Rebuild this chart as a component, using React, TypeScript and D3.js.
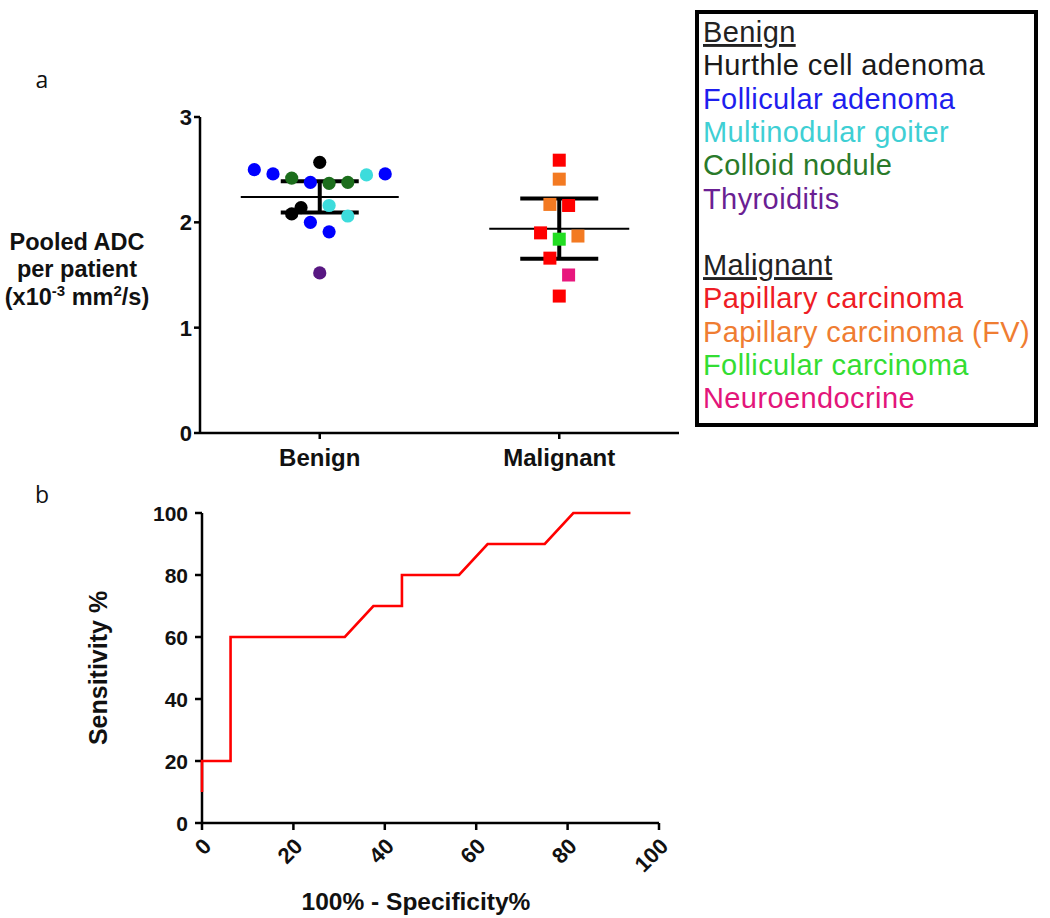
import React from 'react';
import * as d3 from 'd3';

// ---------- data ----------
const categories = ['Benign', 'Malignant'];
const benignValues = [2.50, 2.46, 2.42, 2.38, 2.37, 2.38, 2.45, 2.46, 2.57, 2.14, 2.08, 2.16, 2.06, 2.00, 1.91, 1.52];
const benignTypes = ['FA', 'FA', 'CN', 'FA', 'CN', 'CN', 'MG', 'FA', 'HCA', 'HCA', 'HCA', 'MG', 'MG', 'FA', 'FA', 'THY'];
const benignColumn = [-3.5, -2.5, -1.5, -0.5, 0.5, 1.5, 2.5, 3.5, 0, -1, -1.5, 0.5, 1.5, -0.5, 0.5, 0];
const malignantValues = [2.59, 2.41, 2.17, 2.16, 1.90, 1.84, 1.87, 1.66, 1.50, 1.30];
const malignantTypes = ['PC', 'PCFV', 'PCFV', 'PC', 'PC', 'FC', 'PCFV', 'PC', 'NE', 'PC'];
const malignantColumn = [0, 0, -0.5, 0.5, -1, 0, 1, -0.5, 0.5, 0];
const yTicksA = [0, 1, 2, 3];

const rocFpr = [0, 0, 6.25, 6.25, 31.25, 37.5, 43.75, 43.75, 56.25, 62.5, 75, 81.25, 93.75];
const rocSens = [10, 20, 20, 60, 60, 70, 70, 80, 80, 90, 90, 100, 100];
const rocTicks = [0, 20, 40, 60, 80, 100];

const benignLegendKeys = ['HCA', 'FA', 'MG', 'CN', 'THY'];
const benignLegendNames = ['Hurthle cell adenoma', 'Follicular adenoma', 'Multinodular goiter', 'Colloid nodule', 'Thyroiditis'];
const malignantLegendKeys = ['PC', 'PCFV', 'FC', 'NE'];
const malignantLegendNames = ['Papillary carcinoma', 'Papillary carcinoma (FV)', 'Follicular carcinoma', 'Neuroendocrine'];

const markerColor: Record<string, string> = {
  HCA: '#000000', FA: '#0000ff', MG: '#3ddcdc', CN: '#1c6e1c', THY: '#581782',
  PC: '#ff0000', PCFV: '#f37a22', FC: '#22dd22', NE: '#e8177d',
};
const textColor: Record<string, string> = {
  HCA: '#1a1a1a', FA: '#1e1eee', MG: '#3fcfd4', CN: '#2a7a2a', THY: '#6a1f93',
  PC: '#ee1c25', PCFV: '#ef7d32', FC: '#33dd33', NE: '#e3157a',
};
const tCrit: Record<number, number> = { 9: 2.262, 15: 2.131 };

const bold = '"Liberation Sans", Arial, sans-serif';

export default function App() {
  // ----- panel a -----
  const yA = d3.scaleLinear().domain([0, 3]).range([433, 117]);
  const xA = d3.scalePoint<string>().domain(categories).range([200, 679]).padding(0.5);
  const colStep = 18.7;

  const groups = [
    { name: 'Benign', values: benignValues, types: benignTypes, cols: benignColumn, shape: 'circle', meanHalf: 79 },
    { name: 'Malignant', values: malignantValues, types: malignantTypes, cols: malignantColumn, shape: 'square', meanHalf: 70 },
  ];

  // ----- panel b -----
  const xB = d3.scaleLinear().domain([0, 100]).range([202, 659]);
  const yB = d3.scaleLinear().domain([0, 100]).range([823, 513]);
  const rocPts: [number, number][] = rocFpr.map((f, i) => [f, rocSens[i]]);
  const rocLine = d3.line<[number, number]>().x(d => xB(d[0])).y(d => yB(d[1]));

  const legendLine = 33.3;
  const legendY0 = 42;

  return (
    <svg width={1050} height={918} style={{ position: 'absolute', left: 0, top: 0, background: '#fff' }}>
      {/* panel labels */}
      <text x={42} y={88} fontFamily='"Open Sans", sans-serif' fontSize={23} textAnchor="middle" fill="#111">a</text>
      <text x={42} y={503} fontFamily='"Open Sans", sans-serif' fontSize={23} textAnchor="middle" fill="#111">b</text>

      {/* ===== panel a axes ===== */}
      <line x1={200} x2={200} y1={yA(3)} y2={yA(0)} stroke="#000" strokeWidth={2.5} />
      <line x1={200} x2={679} y1={yA(0)} y2={yA(0)} stroke="#000" strokeWidth={2.5} />
      {yTicksA.map(t => (
        <g key={t}>
          <line x1={194} x2={200} y1={yA(t)} y2={yA(t)} stroke="#000" strokeWidth={2.5} />
          <text x={192} y={yA(t)} dy="0.36em" textAnchor="end" fontFamily={bold} fontWeight="bold" fontSize={22} fill="#111">{t}</text>
        </g>
      ))}
      {categories.map(c => (
        <g key={c}>
          <line x1={xA(c)} x2={xA(c)} y1={yA(0)} y2={yA(0) + 6} stroke="#000" strokeWidth={2.5} />
          <text x={xA(c)} y={466} textAnchor="middle" fontFamily={bold} fontWeight="bold" fontSize={24} fill="#111">{c}</text>
        </g>
      ))}
      <g fontFamily={bold} fontWeight="bold" fontSize={23.5} fill="#111" textAnchor="middle">
        <text x={77} y={250}>Pooled ADC</text>
        <text x={77} y={277}>per patient</text>
        <text x={77} y={305}>
          (x10<tspan dy={-9} fontSize={15}>-3</tspan><tspan dy={9}> mm</tspan><tspan dy={-9} fontSize={15}>2</tspan><tspan dy={9}>/s)</tspan>
        </text>
      </g>

      {/* mean and 95% CI */}
      {groups.map(g => {
        const cx = xA(g.name)!;
        const m = d3.mean(g.values)!;
        const sd = d3.deviation(g.values)!;
        const half = tCrit[g.values.length - 1] * sd / Math.sqrt(g.values.length);
        return (
          <g key={g.name + 'stats'} stroke="#000">
            <line x1={cx - g.meanHalf} x2={cx + g.meanHalf} y1={yA(m)} y2={yA(m)} strokeWidth={2} />
            <line x1={cx} x2={cx} y1={yA(m + half)} y2={yA(m - half)} strokeWidth={4} />
            <line x1={cx - 39} x2={cx + 39} y1={yA(m + half)} y2={yA(m + half)} strokeWidth={4} />
            <line x1={cx - 39} x2={cx + 39} y1={yA(m - half)} y2={yA(m - half)} strokeWidth={4} />
          </g>
        );
      })}

      {/* points */}
      {groups.map(g => {
        const cx = xA(g.name)!;
        return g.values.map((v, i) => {
          const x = cx + g.cols[i] * colStep;
          const y = yA(v);
          const fill = markerColor[g.types[i]];
          return g.shape === 'circle'
            ? <circle key={g.name + i} cx={x} cy={y} r={6.6} fill={fill} />
            : <rect key={g.name + i} x={x - 6.5} y={y - 6.5} width={13} height={13} fill={fill} />;
        });
      })}

      {/* legend */}
      <rect x={697} y={12} width={339} height={413} fill="none" stroke="#000" strokeWidth={4} />
      <g fontFamily='"Liberation Sans", Arial, sans-serif' fontSize={29} letterSpacing={0.4}>
        <text x={703} y={legendY0} fill="#222" textDecoration="underline">Benign</text>
        {benignLegendNames.map((n, i) => (
          <text key={n} x={703} y={legendY0 + (i + 1) * legendLine} fill={textColor[benignLegendKeys[i]]}>{n}</text>
        ))}
        <text x={703} y={legendY0 + 7 * legendLine} fill="#222" textDecoration="underline">Malignant</text>
        {malignantLegendNames.map((n, i) => (
          <text key={n} x={703} y={legendY0 + (i + 8) * legendLine} fill={textColor[malignantLegendKeys[i]]}>{n}</text>
        ))}
      </g>

      {/* ===== panel b ===== */}
      <line x1={xB(0)} x2={xB(0)} y1={yB(100)} y2={yB(0)} stroke="#000" strokeWidth={2.5} />
      <line x1={xB(0)} x2={xB(100)} y1={yB(0)} y2={yB(0)} stroke="#000" strokeWidth={2.5} />
      {rocTicks.map(t => (
        <g key={'y' + t}>
          <line x1={xB(0) - 7} x2={xB(0)} y1={yB(t)} y2={yB(t)} stroke="#000" strokeWidth={2.5} />
          <text x={188} y={yB(t)} dy="0.36em" textAnchor="end" fontFamily={bold} fontWeight="bold" fontSize={21} fill="#111">{t}</text>
        </g>
      ))}
      {rocTicks.map(t => (
        <g key={'x' + t}>
          <line x1={xB(t)} x2={xB(t)} y1={yB(0)} y2={yB(0) + 7} stroke="#000" strokeWidth={2.5} />
          <text transform={`translate(${xB(t) + 5},${yB(0) + 19}) rotate(-45)`} textAnchor="end" dy="0.36em"
            fontFamily={bold} fontWeight="bold" fontSize={22} fill="#111">{t}</text>
        </g>
      ))}
      <text transform={`translate(107,${(yB(0) + yB(100)) / 2}) rotate(-90)`} textAnchor="middle"
        fontFamily={bold} fontWeight="bold" fontSize={25} fill="#111">Sensitivity %</text>
      <text x={416} y={910} textAnchor="middle" fontFamily={bold} fontWeight="bold" fontSize={24.5} fill="#111">100% - Specificity%</text>
      <path d={rocLine(rocPts)!} fill="none" stroke="#ff0000" strokeWidth={2.6} />
    </svg>
  );
}
